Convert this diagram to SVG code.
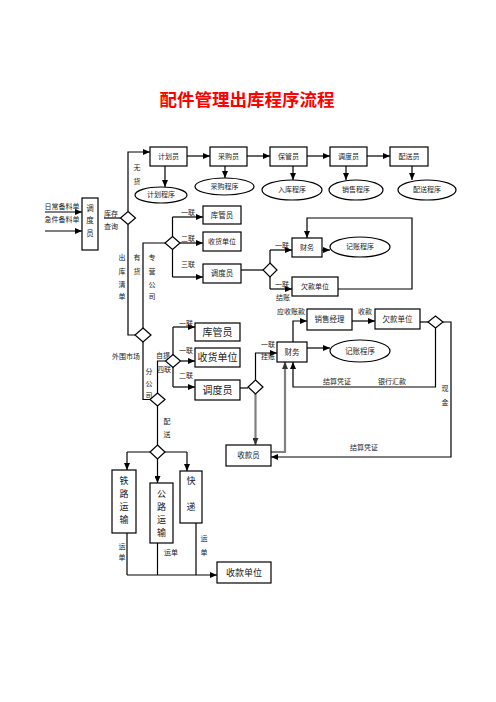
<svg xmlns="http://www.w3.org/2000/svg" width="496" height="702" viewBox="0 0 496 702">
<style>
text{font-family:"Liberation Serif","Noto Sans CJK SC",serif;fill:#222;text-anchor:middle;dominant-baseline:central;font-size:7px}
.t{font-size:17.5px;font-weight:bold;fill:#f00}
.b{fill:#fff;stroke:#000;stroke-width:1.2}
.l{fill:none;stroke:#000;stroke-width:1.2}
.g{fill:none;stroke:#808080;stroke-width:2.2}
.m{font-size:10px}
.n{font-size:9px}
</style>
<defs>
<marker id="a" markerUnits="userSpaceOnUse" markerWidth="7" markerHeight="6" refX="7" refY="3" orient="auto"><path d="M0,0L7,3L0,6z" fill="#000"/></marker>
<marker id="ag" markerUnits="userSpaceOnUse" markerWidth="7" markerHeight="6" refX="7" refY="3" orient="auto"><path d="M0,0L7,3L0,6z" fill="#333"/></marker>
</defs>
<rect width="496" height="702" fill="#fff"/>
<text class="t" x="247" y="100">配件管理出库程序流程</text>

<g id="connectors">
<path class="l" d="M187,156H210" marker-end="url(#a)"/>
<path class="l" d="M247,156H270" marker-end="url(#a)"/>
<path class="l" d="M307,156H330" marker-end="url(#a)"/>
<path class="l" d="M367,156H390" marker-end="url(#a)"/>
<path class="l" d="M165,166V187" marker-end="url(#a)"/>
<path class="l" d="M225,166V178" marker-end="url(#a)"/>
<path class="l" d="M293,166V180" marker-end="url(#a)"/>
<path class="l" d="M346,166V180" marker-end="url(#a)"/>
<path class="l" d="M412,166V180" marker-end="url(#a)"/>
<path class="l" d="M45,212H82" marker-end="url(#a)"/>
<path class="l" d="M45,231H82" marker-end="url(#a)"/>
<path class="l" d="M104,218H120.5"/>
<path class="l" d="M128,211.5V152H150" marker-end="url(#a)"/>
<path class="l" d="M128,224.5V335H135"/>
<path class="l" d="M143,328V243H165"/>
<path class="l" d="M172.5,217V277"/>
<path class="l" d="M172.5,217H203" marker-end="url(#a)"/>
<path class="l" d="M180,243H203" marker-end="url(#a)"/>
<path class="l" d="M172.5,277H203" marker-end="url(#a)"/>
<path class="l" d="M241,270H263"/>
<path class="l" d="M270,250V289"/>
<path class="l" d="M270,250H292" marker-end="url(#a)"/>
<path class="l" d="M270,289H292" marker-end="url(#a)"/>
<path class="l" d="M322,250H330" marker-end="url(#a)"/>
<path class="l" d="M338,289H412V218H307V238" marker-end="url(#a)"/>
<path class="l" d="M143,342V399.5H150"/>
<path class="l" d="M157.5,393V361H165.5"/>
<path class="l" d="M173,327V387"/>
<path class="l" d="M173,327H195" marker-end="url(#a)"/>
<path class="l" d="M180.5,361H195" marker-end="url(#a)"/>
<path class="l" d="M173,387H195" marker-end="url(#a)"/>
<path class="l" d="M240,388H248"/>
<path class="l" d="M255.5,380V353H277" marker-end="url(#a)"/>
<path class="g" d="M255.5,394V445" marker-end="url(#ag)"/>
<path class="g" d="M271,452H285V362" marker-end="url(#ag)"/>
<path class="l" d="M307,348H330" marker-end="url(#a)"/>
<path class="l" d="M293,342V321H307" marker-end="url(#a)"/>
<path class="l" d="M352,321H375" marker-end="url(#a)"/>
<path class="l" d="M420,322H428"/>
<path class="l" d="M435.5,328V387H293V362" marker-end="url(#a)"/>
<path class="l" d="M443,322H451V457H271" marker-end="url(#a)"/>
<path class="l" d="M157.5,406V445"/>
<path class="l" d="M127,452H187"/>
<path class="l" d="M127,452V470" marker-end="url(#a)"/>
<path class="l" d="M157.5,459V483" marker-end="url(#a)"/>
<path class="l" d="M187,452V471" marker-end="url(#a)"/>
<path class="l" d="M127,533V575"/>
<path class="l" d="M157.5,543V575"/>
<path class="l" d="M196,523V575"/>
<path class="l" d="M127,575H217" marker-end="url(#a)"/>
</g>

<g id="labels">
<text x="137" y="168">无</text><text x="137" y="182">货</text>
<text x="62" y="207">日常备料单</text>
<text x="62" y="220">急件备料单</text>
<text x="111" y="214">库存</text><text x="111" y="227">查询</text>
<text x="122" y="258">出</text><text x="122" y="272">库</text><text x="122" y="285">清</text><text x="122" y="297">单</text>
<text x="137" y="258">有</text><text x="137" y="272">货</text>
<text x="152" y="258">专</text><text x="152" y="272">营</text><text x="152" y="285">公</text><text x="152" y="297">司</text>
<text x="188" y="213">一联</text><text x="188" y="239">二联</text><text x="188" y="265">三联</text>
<text x="282" y="246">一联</text><text x="282" y="285">一联</text><text x="283" y="298">结账</text>
<text x="291" y="312">应收账款</text>
<text x="365" y="312">收款</text>
<text x="126" y="357">外围市场</text>
<text x="149" y="372">分</text><text x="149" y="384">公</text><text x="149" y="396">司</text>
<text x="163" y="356">自提</text><text x="164" y="370">四联</text>
<text x="186" y="324">一联</text><text x="186" y="351">一联</text><text x="186" y="376">二联</text>
<text x="268" y="345">一联</text><text x="268" y="357">挂账</text>
<text x="337" y="382">结算凭证</text><text x="392" y="382">银行汇款</text>
<text x="445" y="389">现</text><text x="445" y="403">金</text>
<text x="364" y="448">结算凭证</text>
<text x="167" y="422">配</text><text x="167" y="435">送</text>
<text x="122" y="547">运</text><text x="122" y="558">单</text>
<text x="171" y="553">运单</text>
<text x="204" y="539">运</text><text x="204" y="553">单</text>
</g>

<g id="n-jihuayuan"><rect class="b" x="150" y="147" width="37" height="19"/><text x="168.5" y="156.5">计划员</text></g>
<g id="n-caigouyuan"><rect class="b" x="210" y="147" width="37" height="19"/><text x="228.5" y="156.5">采购员</text></g>
<g id="n-baoguanyuan"><rect class="b" x="270" y="147" width="37" height="19"/><text x="288.5" y="156.5">保管员</text></g>
<g id="n-diaoduyuan-top"><rect class="b" x="330" y="147" width="37" height="19"/><text x="348.5" y="156.5">调度员</text></g>
<g id="n-peisongyuan"><rect class="b" x="390" y="147" width="38" height="19"/><text x="409" y="156.5">配送员</text></g>
<g id="n-jihuachengxu"><ellipse class="b" cx="161" cy="195" rx="26" ry="8"/><text x="161" y="195">计划程序</text></g>
<g id="n-caigouchengxu"><ellipse class="b" cx="224.5" cy="186.5" rx="29.5" ry="8.5"/><text x="224.5" y="186.5">采购程序</text></g>
<g id="n-rukuchengxu"><ellipse class="b" cx="292" cy="190" rx="30" ry="10"/><text x="292" y="190">入库程序</text></g>
<g id="n-xiaoshouchengxu"><ellipse class="b" cx="356" cy="190" rx="27" ry="10"/><text x="356" y="190">销售程序</text></g>
<g id="n-peisongchengxu"><ellipse class="b" cx="427" cy="190" rx="29" ry="10"/><text x="427" y="190">配送程序</text></g>

<g id="n-diaoduyuan-left"><rect class="b" x="82" y="198" width="16" height="52"/><text x="90" y="208" style="font-size:7.5px">调</text><text x="90" y="220" style="font-size:7.5px">度</text><text x="90" y="233" style="font-size:7.5px">员</text></g>
<g id="d1"><path class="b" d="M128,211.5L135.5,218L128,224.5L120.5,218z"/></g>
<g id="d2"><path class="b" d="M172.5,236.5L180,243L172.5,249.5L165,243z"/></g>
<g id="d3"><path class="b" d="M143,328L151,335L143,342L135,335z"/></g>
<g id="d4"><path class="b" d="M270,263L277,270L270,277L263,270z"/></g>
<g id="d5"><path class="b" d="M157.5,393L165,399.5L157.5,406L150,399.5z"/></g>
<g id="d6"><path class="b" d="M173,354.5L180.5,361L173,367.5L165.5,361z"/></g>
<g id="d7"><path class="b" d="M255.5,380L263,387L255.5,394L248,387z"/></g>
<g id="d8"><path class="b" d="M435.5,316L443,322L435.5,328L428,322z"/></g>
<g id="d9"><path class="b" d="M157.5,445L165,452L157.5,459L150,452z"/></g>

<g id="n-kuguanyuan1"><rect class="b" x="203" y="206" width="38" height="18"/><text x="222" y="215" style="font-size:7.5px">库管员</text></g>
<g id="n-shouhuodanwei1"><rect class="b" x="203" y="232" width="38" height="19"/><text x="222" y="241.5">收货单位</text></g>
<g id="n-diaoduyuan1"><rect class="b" x="203" y="264" width="38" height="19"/><text x="222" y="273.5" style="font-size:7.5px">调度员</text></g>
<g id="n-caiwu1"><rect class="b" x="292" y="238" width="30" height="19"/><text x="307" y="247.5">财务</text></g>
<g id="n-jizhang1"><ellipse class="b" cx="360" cy="247" rx="30" ry="10"/><text x="360" y="247">记账程序</text></g>
<g id="n-qiankuan1"><rect class="b" x="292" y="277" width="46" height="19"/><text x="315" y="286.5">欠款单位</text></g>

<g id="n-kuguanyuan2"><rect class="b" x="195" y="323" width="45" height="18"/><text class="m" x="217.5" y="332">库管员</text></g>
<g id="n-shouhuodanwei2"><rect class="b" x="195" y="348" width="45" height="19"/><text class="m" x="217.5" y="357.5">收货单位</text></g>
<g id="n-diaoduyuan2"><rect class="b" x="195" y="380" width="45" height="20"/><text class="m" x="217.5" y="390">调度员</text></g>
<g id="n-caiwu2"><rect class="b" x="277" y="342" width="30" height="20"/><text x="292" y="352" style="font-size:7.5px">财务</text></g>
<g id="n-jizhang2"><ellipse class="b" cx="360" cy="351" rx="30" ry="11"/><text x="360" y="351" style="font-size:7.5px">记账程序</text></g>
<g id="n-xiaoshoujingli"><rect class="b" x="307" y="309" width="45" height="21"/><text x="329.5" y="319.5" style="font-size:7.5px">销售经理</text></g>
<g id="n-qiankuan2"><rect class="b" x="375" y="309" width="45" height="20"/><text x="397.5" y="319" style="font-size:7.5px">欠款单位</text></g>
<g id="n-shoukuanyuan"><rect class="b" x="226" y="445" width="45" height="21"/><text x="248.5" y="455.5" style="font-size:7.5px">收款员</text></g>

<g id="n-tielu"><rect class="b" x="112" y="470" width="24" height="63"/><text class="n" x="124" y="481">铁</text><text class="n" x="124" y="494">路</text><text class="n" x="124" y="507">运</text><text class="n" x="124" y="520">输</text></g>
<g id="n-gonglu"><rect class="b" x="150" y="483" width="23" height="60"/><text class="n" x="161.5" y="494">公</text><text class="n" x="161.5" y="507">路</text><text class="n" x="161.5" y="520">运</text><text class="n" x="161.5" y="533">输</text></g>
<g id="n-kuaidi"><rect class="b" x="180" y="471" width="22" height="52"/><text class="n" x="191" y="481">快</text><text class="n" x="191" y="507">递</text></g>
<g id="n-shoukuandanwei"><rect class="b" x="217" y="562" width="54" height="21"/><text class="n" x="244" y="572.5">收款单位</text></g>
</svg>
